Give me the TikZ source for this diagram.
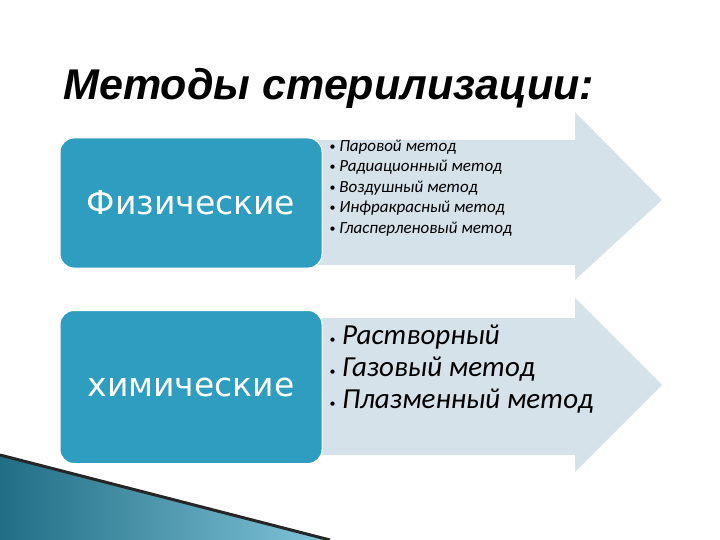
\documentclass[tikz,border=0pt]{standalone}
\usepackage{fontspec}
\setmainfont{Carlito}
\newfontfamily\titlefont{Liberation Sans}
\newfontfamily\boxfont{DejaVu Sans}
\begin{document}
\begin{tikzpicture}[x=1pt,y=-1pt,
  catbox/.style={draw=white,line width=1pt,fill=catblue,rounded corners=14pt,text=white,font=\boxfont\fontsize{33}{38}\selectfont},
  arrowshape/.style={fill=arrowgray},
  listtext/.style={anchor=west,align=left,font=\itshape}]
\definecolor{catblue}{HTML}{2E9DBF}
\definecolor{arrowgray}{HTML}{D6E2EA}
\newcommand{\bul}{{\fontsize{12}{12}\selectfont\upshape\raisebox{0.1em}{•}}\ }
\useasboundingbox (0,0) rectangle (720,540);
% arrows
\fill[arrowshape] (315,140) -- (575,140) -- (575,112) -- (662,200) -- (575,280) -- (575,265) -- (315,265) -- cycle;
\fill[arrowshape] (315,318) -- (575,318) -- (575,298) -- (662,385) -- (575,472) -- (575,455) -- (315,455) -- cycle;
% boxes
\node[catbox,minimum width=262pt,minimum height=130pt] (phys) at (191,203) {Физические};
\node[catbox,minimum width=262pt,minimum height=153pt] (chem) at (191,387) {химические};
% lists
\node[listtext,font=\itshape\fontsize{17}{20.5}\selectfont] (l1) at (326,188) {\bul Паровой метод\\\bul Радиационный метод\\\bul Воздушный метод\\\bul Инфракрасный метод\\\bul Гласперленовый метод};
\node[listtext,font=\itshape\fontsize{29}{32}\selectfont] (l2) at (326,369) {\bul Растворный\\\bul Газовый метод\\\bul Плазменный метод};
% title
\node[anchor=base west,font=\titlefont\bfseries\itshape\fontsize{43}{48}\selectfont] (title) at (60,100) {Методы стерилизации:};
% decoration
\shade[left color=catblue!70!black,right color=catblue!60!white] (0,455) -- (330,540) -- (0,540) -- cycle;
\draw[line width=3pt,black!85] (0,455) -- (330,540);
\end{tikzpicture}
\end{document}
